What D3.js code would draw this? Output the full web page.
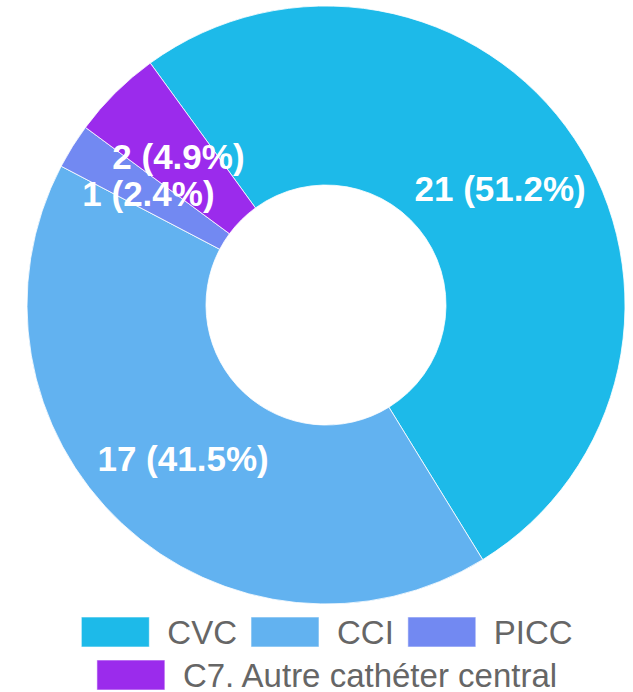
<!DOCTYPE html>
<html>
<head>
<meta charset="utf-8">
<script src="https://cdn.jsdelivr.net/npm/d3@7"></script>
<style>
  body { margin: 0; background: #fff; }
  svg text { font-family: Arial, "Liberation Sans", sans-serif; }
</style>
</head>
<body>
<div id="chart"></div>
<script>
var categories = ['CVC', 'CCI', 'PICC', 'C7. Autre cathéter central'];
var counts = [21, 17, 1, 2];
var colors = ['#1dbae9', '#62b2f0', '#7289f2', '#9b2bec'];

var width = 633, height = 692;
var cx = 326, cy = 305,
    outerR = 299, innerR = 120;

var svg = d3.select('#chart').append('svg')
    .attr('width', width)
    .attr('height', height);

var total = d3.sum(counts);
var data = categories.map(function(c, i) {
  return { name: c, value: counts[i], color: colors[i] };
});

// chart starts rotated a bit to the left of 12 o'clock
var startDeg = -36;
var pie = d3.pie()
    .sort(null)
    .value(function(d) { return d.value; })
    .startAngle(startDeg * Math.PI / 180)
    .endAngle((startDeg + 360) * Math.PI / 180);

var arc = d3.arc().innerRadius(innerR).outerRadius(outerR);

var g = svg.append('g')
    .attr('transform', 'translate(' + cx + ',' + cy + ')');

var arcs = pie(data);

g.selectAll('path')
    .data(arcs)
  .enter().append('path')
    .attr('d', arc)
    .attr('fill', function(d) { return d.data.color; })
    .attr('stroke', '#fff')
    .attr('stroke-width', 0.8);

g.selectAll('.lbl')
    .data(arcs)
  .enter().append('text')
    .attr('class', 'lbl')
    .attr('transform', function(d) { return 'translate(' + arc.centroid(d) + ')'; })
    .attr('text-anchor', 'middle')
    .attr('dominant-baseline', 'central')
    .attr('fill', '#fff')
    .style('font-weight', 'bold')
    .style('font-size', '35px')
    .text(function(d) {
      return d.data.value + ' (' + (d.data.value / total * 100).toFixed(1) + '%)';
    });

// legend, wrapped into centered rows
var boxW = 68, boxH = 30, textGap = 18, itemGap = 14, rowH = 43;
var legendTop = 632, maxRow = 560;

var legend = svg.append('g');
var items = legend.selectAll('.item')
    .data(data)
  .enter().append('g')
    .attr('class', 'item');

items.append('rect')
    .attr('width', boxW)
    .attr('height', boxH)
    .attr('y', -boxH / 2)
    .attr('fill', function(d) { return d.color; })
    .attr('stroke', 'rgba(255,255,255,0.6)')
    .attr('stroke-width', 1);

items.append('text')
    .attr('x', boxW + textGap)
    .attr('dominant-baseline', 'central')
    .attr('fill', '#666')
    .style('font-size', '33px')
    .text(function(d) { return d.name; });

var rows = [[]], rowW = [0];
items.each(function(d) {
  var w = boxW + textGap + this.querySelector('text').getComputedTextLength();
  var r = rows.length - 1;
  var add = rows[r].length ? itemGap + w : w;
  if (rowW[r] + add > maxRow && rows[r].length) {
    rows.push([]); rowW.push(0); r++; add = w;
  }
  rows[r].push({ node: this, w: w });
  rowW[r] += add;
});

rows.forEach(function(row, r) {
  var x = cx + 1 - rowW[r] / 2;
  row.forEach(function(it) {
    d3.select(it.node).attr('transform', 'translate(' + x + ',' + (legendTop + r * rowH) + ')');
    x += it.w + itemGap;
  });
});
</script>
</body>
</html>
